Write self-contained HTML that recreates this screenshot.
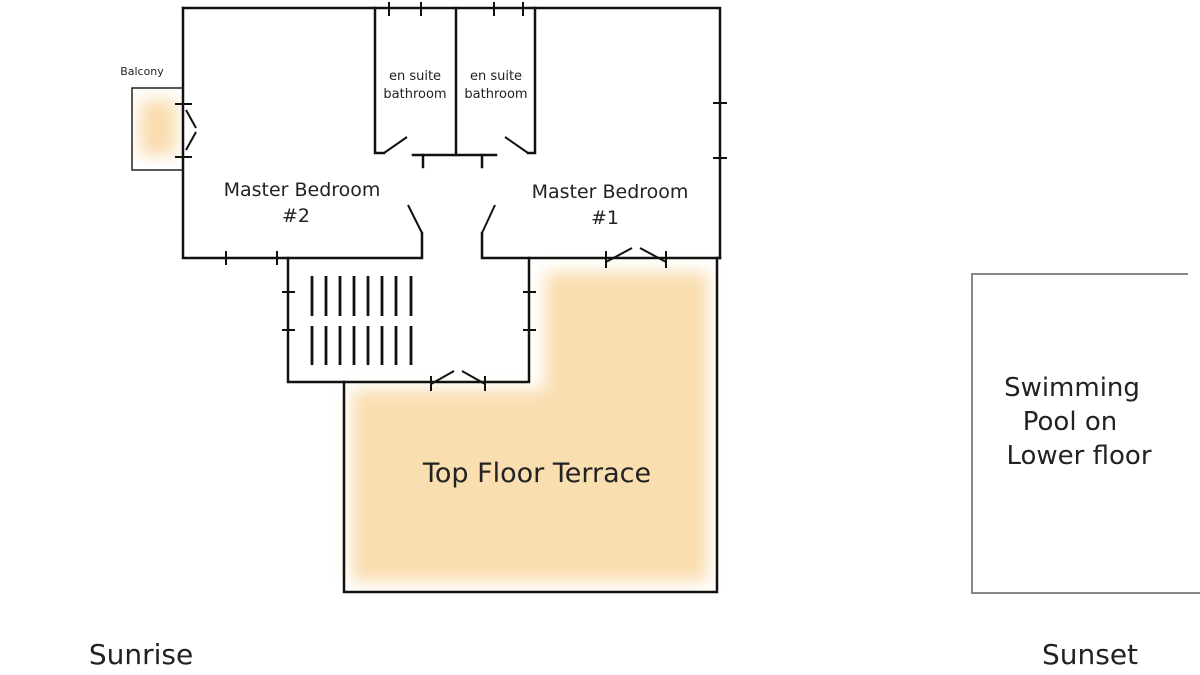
<!DOCTYPE html>
<html><head><meta charset="utf-8"><style>
html,body{margin:0;padding:0;background:#fff;width:1200px;height:675px;overflow:hidden}
svg{display:block}
text{font-family:"DejaVu Sans","Liberation Sans",sans-serif;fill:#222}
</style></head><body>
<svg width="1200" height="675" viewBox="0 0 1200 675">
<defs>
<filter id="b" x="-20%" y="-20%" width="140%" height="140%"><feGaussianBlur stdDeviation="8"/></filter>
</defs>
<g filter="url(#b)" fill="#f9deb0">
<rect x="352" y="390" width="356" height="192"/>
<rect x="545" y="272" width="163" height="130"/>
</g>
<rect x="140" y="100" width="36" height="55" fill="#f9dcae" filter="url(#b)"/>
<g stroke="#111" stroke-width="2.5" fill="none" stroke-linecap="square">
<path d="M183 8 H720 V258"/>
<path d="M183 8 V258 H422 V233"/>
<path d="M482 233 V258 H720"/>
<path d="M375 8 V153 H384"/>
<path d="M456 8 V155"/>
<path d="M535 8 V153 H528"/>
<path d="M413 155 H496"/>
<path d="M423 155 V167 M482 155 V167"/>
<path d="M288 258 V382 H529 V258"/>
<path d="M344 382 V592 H717 V258"/>
</g>
<g stroke="#111" stroke-width="2" fill="none">
<path d="M384 153 L407 137"/>
<path d="M528 153 L505 137"/>
<path d="M422 233 L408 205"/>
<path d="M482 233 L495 205"/>
<path d="M389 2 V16 M421 2 V16 M494 2 V16 M523 2 V16"/>
<path d="M713 103 H727 M713 158 H727"/>
<path d="M226 251 V265 M277 251 V265"/>
<path d="M606 251 V268 M666 251 V268 M606 262 L632 248 M666 262 L640 248"/>
<path d="M282 292 H295 M282 330 H295 M523 292 H536 M523 330 H536"/>
<path d="M431 376 V391 M485 376 V391 M431 384 L454 371 M485 384 L462 371"/>
<path d="M183 88 H132 V170 H183" stroke="#222" stroke-width="1.5"/>
<path d="M175 104 H192 M175 157 H192 M186 110 L196 128 M186 150 L196 132"/>
</g>
<g stroke="#111" stroke-width="2.8">
<path d="M312 276 V316 M326 276 V316 M340 276 V316 M354 276 V316 M368 276 V316 M382 276 V316 M396 276 V316 M411 276 V316"/>
<path d="M312 326 V365 M326 326 V365 M340 326 V365 M354 326 V365 M368 326 V365 M382 326 V365 M396 326 V365 M411 326 V365"/>
</g>
<path d="M1188 274 H972 V593 H1200" stroke="#888" stroke-width="2" fill="none"/>
<text x="142" y="75" font-size="11" text-anchor="middle" fill="#333">Balcony</text>
<text x="415" y="80" font-size="13" text-anchor="middle">en suite</text>
<text x="415" y="98" font-size="13" text-anchor="middle">bathroom</text>
<text x="496" y="80" font-size="13" text-anchor="middle">en suite</text>
<text x="496" y="98" font-size="13" text-anchor="middle">bathroom</text>
<text x="302" y="196" font-size="19" text-anchor="middle">Master Bedroom</text>
<text x="296" y="222" font-size="19" text-anchor="middle">#2</text>
<text x="610" y="198" font-size="19" text-anchor="middle">Master Bedroom</text>
<text x="605" y="224" font-size="19" text-anchor="middle">#1</text>
<text x="537" y="482" font-size="27" text-anchor="middle">Top Floor Terrace</text>
<text x="1072" y="396" font-size="26" text-anchor="middle" fill="#555">Swimming</text>
<text x="1070" y="430" font-size="26" text-anchor="middle" fill="#555">Pool on</text>
<text x="1079" y="464" font-size="26" text-anchor="middle" fill="#555">Lower floor</text>
<text x="141" y="664" font-size="28" text-anchor="middle">Sunrise</text>
<text x="1090" y="664" font-size="28" text-anchor="middle">Sunset</text>
</svg>
</body></html>
